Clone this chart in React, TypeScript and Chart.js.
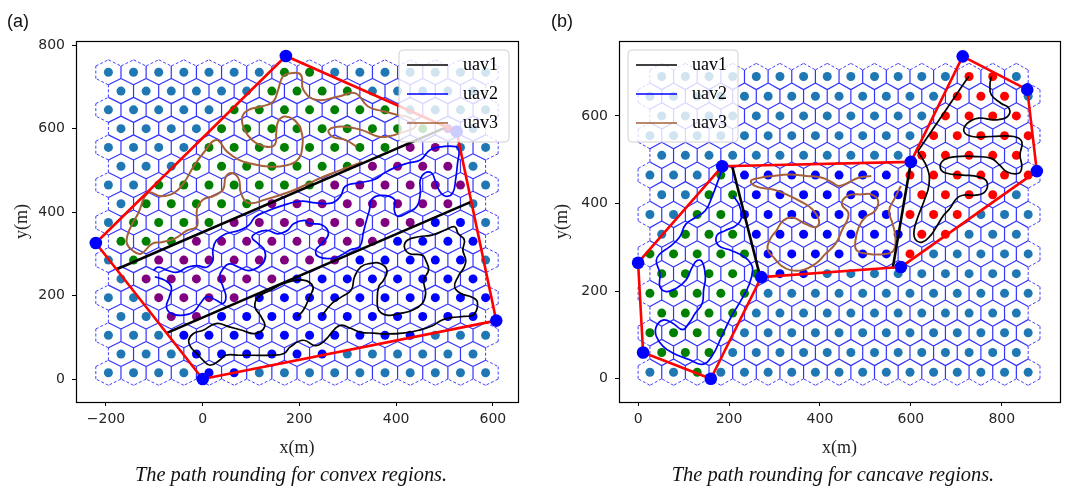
import React, { useEffect, useRef } from "react";
import { Chart, registerables } from "chart.js";
Chart.register(...registerables);

// ---------------- Panel (a): convex region ----------------
const rowsA = [15, 60, 105, 150, 195, 240, 285, 330, 375, 420, 465, 510, 555, 600, 645, 690, 735];
const evenColsA = [-195, -143, -91, -39, 13, 65, 117, 169, 221, 273, 325, 377, 429, 481, 533, 585];
const oddColsA = [-169, -117, -65, -13, 39, 91, 143, 195, 247, 299, 351, 403, 455, 507, 559];
const regionA: [number, number][] = [[0, 0], [607, 140], [525, 593], [172, 774], [-221, 326]];
const splitA1: [number, number][] = [[-178, 263], [503, 603]];
const splitA2: [number, number][] = [[-75, 110], [556, 425]];
const xTicksA = [-200, 0, 200, 400, 600];
const yTicksA = [0, 200, 400, 600, 800];

const uav1A: [number, number][] = [
  [195, 149], [208, 165], [221, 197], [228, 221], [208, 237], [168, 229], [141, 213], [115, 197], [108, 173],
  [121, 149], [128, 125], [108, 109], [81, 117], [55, 125], [28, 133], [1, 117], [-19, 109], [-29, 93],
  [-25, 77], [-12, 61], [1, 45], [15, 33], [35, 45], [48, 57], [75, 57], [101, 57], [141, 57], [168, 61],
  [181, 77], [208, 93], [233, 80], [253, 93], [274, 121], [287, 129], [307, 121], [327, 112], [354, 110],
  [381, 108], [414, 110], [447, 117], [474, 127], [494, 141], [514, 147], [541, 150], [561, 155], [568, 185],
  [555, 197], [534, 205], [521, 221], [528, 245], [541, 269], [544, 285], [538, 309], [541, 333], [528, 349],
  [521, 365], [501, 357], [474, 345], [447, 341], [424, 333], [417, 317], [427, 301], [454, 297], [461, 285],
  [467, 261], [457, 237], [461, 205], [454, 181], [434, 165], [407, 157], [381, 153], [364, 165], [361, 189],
  [364, 221], [374, 237], [381, 261], [367, 277], [347, 277], [327, 269], [314, 245], [307, 213], [287, 197],
  [267, 181], [247, 153],
];
const uav2A: [number, number][] = [
  [-99, 245], [-79, 237], [-65, 221], [-69, 197], [-75, 173], [-65, 157], [-39, 153], [-19, 161], [-5, 181],
  [8, 197], [28, 189], [42, 181], [48, 197], [42, 221], [35, 245], [42, 264], [55, 276], [75, 268], [95, 260],
  [115, 268], [128, 284], [128, 308], [115, 324], [102, 340], [115, 352], [135, 356], [155, 348], [175, 356],
  [188, 372], [210, 380], [220, 373], [247, 369], [260, 349], [247, 325], [234, 309], [240, 293], [267, 289],
  [287, 297], [305, 310], [325, 318], [332, 350], [339, 382], [345, 406], [349, 430], [370, 440], [397, 430],
  [396, 406], [403, 390], [423, 398], [443, 414], [450, 446], [450, 478], [460, 494], [473, 494], [480, 478],
  [490, 450], [503, 438], [517, 446], [523, 478], [527, 517], [530, 549], [523, 557], [497, 557], [470, 549],
  [450, 525], [423, 517], [396, 506], [376, 494], [355, 478], [322, 470], [295, 462], [285, 438], [268, 422],
  [234, 422], [201, 426], [155, 412], [128, 400], [108, 388], [95, 368], [75, 356], [48, 348], [28, 332],
  [21, 308], [21, 284], [8, 268], [-12, 272], [-32, 268], [-52, 256], [-72, 260], [-92, 268], [-102, 260],
];
const uav3A: [number, number][] = [
  [318, 557], [295, 573], [268, 581], [261, 597], [288, 605], [328, 597], [362, 581], [382, 581], [410, 590],
  [440, 605], [430, 625], [402, 633], [376, 641], [342, 653], [315, 685], [281, 677], [234, 669], [208, 693],
  [203, 729], [183, 733], [166, 725], [156, 693], [146, 665], [122, 653], [95, 645], [82, 629], [85, 601],
  [102, 573], [129, 557], [149, 561], [152, 589], [156, 617], [169, 629], [189, 621], [203, 597], [206, 557],
  [196, 525], [169, 511], [136, 509], [102, 516], [75, 525], [50, 545], [28, 573], [1, 541], [-19, 509],
  [-39, 470], [-59, 446], [-86, 438], [-113, 446], [-133, 398], [-152, 356], [-157, 326], [-145, 308],
  [-128, 300], [-105, 324], [-85, 328], [-59, 336], [-32, 356], [-12, 366], [-12, 406], [1, 430], [21, 438],
  [42, 454], [48, 485], [62, 493], [75, 478], [79, 446], [95, 422], [129, 430], [183, 450], [221, 470],
  [261, 490], [295, 505], [330, 520],
];

// ---------------- Panel (b): concave region ----------------
const rowsB = [15, 60, 105, 150, 195, 240, 285, 330, 375, 420, 465, 510, 555, 600, 645, 690];
const evenColsB = [26, 78, 130, 182, 234, 286, 338, 390, 442, 494, 546, 598, 650, 702, 754, 806, 858];
const oddColsB = [52, 104, 156, 208, 260, 312, 364, 416, 468, 520, 572, 624, 676, 728, 780, 832];
const regionB: [number, number][] = [
  [185, 485], [0, 265], [11, 60], [160, 0], [271, 232], [578, 255], [877, 474], [856, 660], [714, 736], [600, 495],
];
const splitB1: [number, number][] = [[207, 485], [268, 235]];
const splitB2: [number, number][] = [[600, 495], [560, 252]];
const xTicksB = [0, 200, 400, 600, 800];
const yTicksB = [0, 200, 400, 600];

const uav1B: [number, number][] = [
  [777, 690], [774, 671], [777, 648], [798, 629], [816, 617], [812, 598], [784, 591], [749, 595], [724, 583],
  [717, 564], [735, 553], [777, 553], [826, 553], [844, 541], [840, 511], [844, 484], [837, 469], [812, 472],
  [795, 488], [777, 503], [746, 507], [700, 507], [672, 499], [665, 480], [679, 469], [714, 465], [749, 461],
  [767, 450], [763, 427], [742, 419], [714, 419], [700, 411], [686, 389], [672, 373], [658, 350], [644, 328],
  [625, 312], [610, 318], [607, 338], [615, 368], [629, 406], [640, 444], [636, 481], [615, 519],
];
const uav1BTransit: [number, number][] = [[615, 519], [727, 690]];
const uav2B: [number, number][] = [
  [209, 418], [223, 395], [227, 368], [216, 350], [191, 338], [173, 327], [177, 304], [205, 293], [234, 278],
  [248, 263], [252, 248], [245, 217], [227, 180], [205, 142], [184, 97], [162, 51], [141, 33], [112, 44],
  [76, 59], [55, 74], [40, 97], [40, 119], [55, 134], [76, 127], [98, 112], [112, 127], [126, 150], [141, 172],
  [144, 202], [148, 233], [141, 267], [130, 270], [119, 255], [105, 225], [83, 206], [62, 199], [48, 210],
  [48, 240], [40, 270], [48, 285], [69, 301], [91, 323], [105, 353], [126, 368], [148, 384], [162, 414],
  [185, 478],
];
const uav3B: [number, number][] = [
  [513, 463], [485, 459], [463, 448], [441, 440], [427, 448], [405, 459], [369, 463], [333, 466], [297, 463],
  [265, 458], [248, 451], [262, 438], [297, 432], [326, 421], [355, 406], [383, 387], [398, 361], [391, 346],
  [369, 353], [340, 368], [319, 361], [304, 338], [290, 318], [285, 295], [300, 275], [315, 258], [335, 248],
  [362, 248], [391, 263], [412, 285], [434, 308], [448, 338], [463, 376], [448, 399], [462, 418], [492, 421],
  [513, 421], [528, 406], [521, 383], [499, 368], [485, 345], [478, 315], [481, 293], [507, 285], [543, 285],
  [562, 293], [566, 323], [560, 353], [552, 383], [565, 413], [578, 440],
];

// ---------------- styling ----------------
const HEX_R = 30;
const HEX_HALF_W = 26;
const STEEL = "#1f77b4";
const GREEN = "#008000";
const PURPLE = "#800080";
const BLUE = "#0000ff";
const RED = "#ff0000";
const BROWN = "#a5603a";
const TICK_FONT = { family: "DejaVu Sans", size: 14 };
const TITLE_FONT = { family: "Liberation Serif", size: 18 };

type P = { x: number; y: number | null };

function hexSegments(rows: number[], evenCols: number[], oddCols: number[]) {
  const edges = new Map<string, { a: number[]; b: number[]; n: number }>();
  rows.forEach((cy, j) => {
    const cols = j % 2 === 0 ? evenCols : oddCols;
    cols.forEach((cx) => {
      const v = [
        [cx, cy + HEX_R], [cx + HEX_HALF_W, cy + HEX_R / 2], [cx + HEX_HALF_W, cy - HEX_R / 2],
        [cx, cy - HEX_R], [cx - HEX_HALF_W, cy - HEX_R / 2], [cx - HEX_HALF_W, cy + HEX_R / 2],
      ];
      for (let i = 0; i < 6; i++) {
        const a = v[i], b = v[(i + 1) % 6];
        const ka = `${Math.round(a[0])},${Math.round(a[1])}`;
        const kb = `${Math.round(b[0])},${Math.round(b[1])}`;
        const key = ka < kb ? ka + "|" + kb : kb + "|" + ka;
        const e = edges.get(key);
        if (e) e.n++;
        else edges.set(key, { a, b, n: 1 });
      }
    });
  });
  const solid: P[] = [], dashed: P[] = [];
  edges.forEach((e) => {
    const arr = e.n > 1 ? solid : dashed;
    arr.push({ x: e.a[0], y: e.a[1] }, { x: e.b[0], y: e.b[1] }, { x: e.b[0], y: null });
  });
  return { solid, dashed };
}

function inPoly(x: number, y: number, poly: [number, number][]) {
  let inside = false;
  for (let i = 0, j = poly.length - 1; i < poly.length; j = i++) {
    const [xi, yi] = poly[i], [xj, yj] = poly[j];
    if (yi > y !== yj > y && x < ((xj - xi) * (y - yi)) / (yj - yi) + xi) inside = !inside;
  }
  return inside;
}
function side(x: number, y: number, l: [number, number][]) {
  return (l[1][0] - l[0][0]) * (y - l[0][1]) - (l[1][1] - l[0][1]) * (x - l[0][0]);
}
const pts = (a: [number, number][]) => a.map(([x, y]) => ({ x, y }));

const framePlugin = {
  id: "frame",
  afterDraw(chart: any) {
    const { ctx, chartArea: c } = chart;
    ctx.save();
    ctx.strokeStyle = "#000";
    ctx.lineWidth = 1.2;
    ctx.strokeRect(Math.round(c.left) + 0.5, Math.round(c.top) + 0.5, Math.round(c.right - c.left), Math.round(c.bottom - c.top));
    ctx.restore();
  },
};

const legendPlugin = {
  id: "uavLegend",
  afterDatasetsDraw(chart: any, _a: any, opts: any) {
    if (!opts || !opts.labels) return;
    const { ctx, chartArea: c } = chart;
    const left = opts.anchor === "right" ? c.right - opts.margin - opts.width : c.left + opts.margin;
    const top = c.top + opts.marginTop;
    const w = opts.width, h = opts.height, r = 4;
    ctx.save();
    ctx.beginPath();
    ctx.moveTo(left + r, top);
    ctx.arcTo(left + w, top, left + w, top + h, r);
    ctx.arcTo(left + w, top + h, left, top + h, r);
    ctx.arcTo(left, top + h, left, top, r);
    ctx.arcTo(left, top, left + w, top, r);
    ctx.closePath();
    ctx.fillStyle = "rgba(255,255,255,0.8)";
    ctx.fill();
    ctx.strokeStyle = "rgba(204,204,204,0.9)";
    ctx.lineWidth = 1;
    ctx.stroke();
    opts.labels.forEach((lab: string, i: number) => {
      const ds = chart.data.datasets.find((d: any) => d.label === lab);
      const y = top + 15 + i * 29;
      ctx.strokeStyle = ds ? ds.borderColor : "#000";
      ctx.lineWidth = 1.6;
      ctx.beginPath();
      ctx.moveTo(left + 8, y);
      ctx.lineTo(left + 49, y);
      ctx.stroke();
      ctx.fillStyle = "#000";
      ctx.font = "18px 'Liberation Serif'";
      ctx.textBaseline = "middle";
      ctx.fillText(lab, left + 64, y);
    });
    ctx.restore();
  },
};

type Spec = {
  rows: number[]; evenCols: number[]; oddCols: number[];
  region: [number, number][]; split1: [number, number][]; split2: [number, number][];
  classify: (x: number, y: number) => number; colors: string[];
  uav1: [number, number][]; uav1Transit?: [number, number][]; uav2: [number, number][]; uav3: [number, number][];
  xMin: number; xMax: number; yMin: number; yMax: number; xTicks: number[]; yTicks: number[];
  axisWidth: number; padRight: number; legendAnchor: string;
};

function buildConfig(s: Spec): any {
  const hex = hexSegments(s.rows, s.evenCols, s.oddCols);
  const groups: { x: number; y: number }[][] = s.colors.map(() => []);
  s.rows.forEach((cy, j) => {
    (j % 2 === 0 ? s.evenCols : s.oddCols).forEach((cx) => groups[s.classify(cx, cy)].push({ x: cx, y: cy }));
  });
  const lineDs = (label: string, data: any[], color: string, width: number, order: number, extra: any = {}) => ({
    label, data, showLine: true, borderColor: color, backgroundColor: color, borderWidth: width,
    pointRadius: 0, pointHoverRadius: 0, tension: 0, spanGaps: false, order, ...extra,
  });
  const datasets: any[] = [
    lineDs("hexDashed", hex.dashed, "rgba(0,0,255,0.75)", 1, 101, { borderDash: [3, 2] }),
    lineDs("hexSolid", hex.solid, "rgba(0,0,255,0.8)", 1.2, 100),
    ...groups.map((g, i) => ({
      label: "dots" + i, data: g, pointRadius: 4.5, pointHoverRadius: 4.5, borderWidth: 0,
      backgroundColor: s.colors[i], pointBorderColor: s.colors[i], showLine: false, order: 90,
    })),
    lineDs("region", [...pts(s.region), pts(s.region)[0]], RED, 2.6, 70, { borderJoinStyle: "round" }),
    lineDs("split1", pts(s.split1), "#000", 2.6, 72),
    lineDs("split2", pts(s.split2), "#000", 2.6, 72),
    lineDs("uav1", pts(s.uav1), "#000", 1.7, 75, { tension: 0.45 }),
    lineDs("uav2", pts(s.uav2), BLUE, 1.7, 75, { tension: 0.45 }),
    lineDs("uav3", pts(s.uav3), BROWN, 2, 75, { tension: 0.45 }),
    {
      label: "vertices", data: pts(s.region), pointRadius: 6.3, pointHoverRadius: 6.3, borderWidth: 0,
      backgroundColor: BLUE, pointBorderColor: BLUE, showLine: false, order: 60,
    },
  ];
  if (s.uav1Transit) datasets.push(lineDs("uav1transit", pts(s.uav1Transit), "#000", 1.7, 75));
  const tickOpts = { font: TICK_FONT, color: "#262626" };
  return {
    type: "scatter",
    data: { datasets },
    plugins: [framePlugin, legendPlugin],
    options: {
      responsive: false, animation: false, events: [],
      layout: { padding: { left: 0, right: s.padRight, top: 41, bottom: 28 } },
      plugins: {
        legend: { display: false }, tooltip: { enabled: false },
        uavLegend: {
          labels: ["uav1", "uav2", "uav3"], anchor: s.legendAnchor, margin: 9, marginTop: 9, width: 110, height: 92,
        },
      },
      scales: {
        x: {
          type: "linear", min: s.xMin, max: s.xMax,
          afterBuildTicks: (sc: any) => { sc.ticks = s.xTicks.map((v) => ({ value: v })); },
          afterFit: (sc: any) => { sc.height = 58; sc.paddingLeft = 0; sc.paddingRight = 0; },
          ticks: {
            ...tickOpts, padding: 5, maxRotation: 0,
            callback: (v: number) => (v < 0 ? "\u2212" + Math.abs(v) : String(v)),
          },
          grid: { display: true, drawOnChartArea: false, drawTicks: true, tickLength: 4, color: "#000" },
          border: { display: true, color: "#000", width: 1 },
          title: { display: true, text: "x(m)", font: TITLE_FONT, color: "#222", padding: { top: 0, bottom: 1 } },
        },
        y: {
          type: "linear", min: s.yMin, max: s.yMax,
          afterBuildTicks: (sc: any) => { sc.ticks = s.yTicks.map((v) => ({ value: v })); },
          afterFit: (sc: any) => { sc.width = s.axisWidth; sc.paddingTop = 0; sc.paddingBottom = 0; },
          ticks: { ...tickOpts, padding: 7 },
          grid: { display: true, drawOnChartArea: false, drawTicks: true, tickLength: 4, color: "#000" },
          border: { display: true, color: "#000", width: 1 },
          title: { display: true, text: "y(m)", font: TITLE_FONT, color: "#222", padding: { top: 11, bottom: 0 } },
        },
      },
    },
  };
}

const specA: Spec = {
  rows: rowsA, evenCols: evenColsA, oddCols: oddColsA, region: regionA, split1: splitA1, split2: splitA2,
  classify: (x, y) => {
    if (!inPoly(x, y, regionA)) return 0;
    if (side(x, y, splitA1) > 0) return 1;
    if (side(x, y, splitA2) < 0) return 3;
    return 2;
  },
  colors: [STEEL, GREEN, PURPLE, BLUE],
  uav1: uav1A, uav2: uav2A, uav3: uav3A,
  xMin: -262, xMax: 652, yMin: -55, yMax: 810, xTicks: xTicksA, yTicks: yTicksA,
  axisWidth: 76, padRight: 22, legendAnchor: "right",
};
const specB: Spec = {
  rows: rowsB, evenCols: evenColsB, oddCols: oddColsB, region: regionB, split1: splitB1, split2: splitB2,
  classify: (x, y) => {
    if (!inPoly(x, y, regionB)) return 0;
    if (side(x, y, splitB1) < 0) return 1;
    if (side(x, y, splitB2) > 0) return 3;
    return 2;
  },
  colors: [STEEL, GREEN, BLUE, RED],
  uav1: uav1B, uav1Transit: uav1BTransit, uav2: uav2B, uav3: uav3B,
  xMin: -42, xMax: 928, yMin: -53, yMax: 771, xTicks: xTicksB, yTicks: yTicksB,
  axisWidth: 79, padRight: 20, legendAnchor: "left",
};

function Panel({ spec, left }: { spec: Spec; left: number }) {
  const ref = useRef<HTMLCanvasElement>(null);
  useEffect(() => {
    const chart = new Chart(ref.current as HTMLCanvasElement, buildConfig(spec));
    return () => chart.destroy();
  }, []);
  return (
    <canvas ref={ref} width={540} height={488}
      style={{ position: "absolute", left, top: 0, width: 540, height: 488 }} />
  );
}

const captionStyle: React.CSSProperties = {
  position: "absolute", top: 463, width: 540, textAlign: "center",
  fontFamily: "'Liberation Serif', serif", fontStyle: "italic", fontSize: 20.4, color: "#111",
};
const tagStyle: React.CSSProperties = {
  position: "absolute", top: 11, fontFamily: "'Liberation Sans', sans-serif", fontSize: 18, color: "#111",
};

export default function App() {
  return (
    <div style={{ position: "fixed", left: 0, top: 0, width: 1080, height: 488, background: "#fff", overflow: "hidden" }}>
      <Panel spec={specA} left={0} />
      <Panel spec={specB} left={540} />
      <div style={{ ...tagStyle, left: 7 }}>(a)</div>
      <div style={{ ...tagStyle, left: 551 }}>(b)</div>
      <div style={{ ...captionStyle, left: 21 }}>The path rounding for convex regions.</div>
      <div style={{ ...captionStyle, left: 563 }}>The path rounding for cancave regions.</div>
    </div>
  );
}
